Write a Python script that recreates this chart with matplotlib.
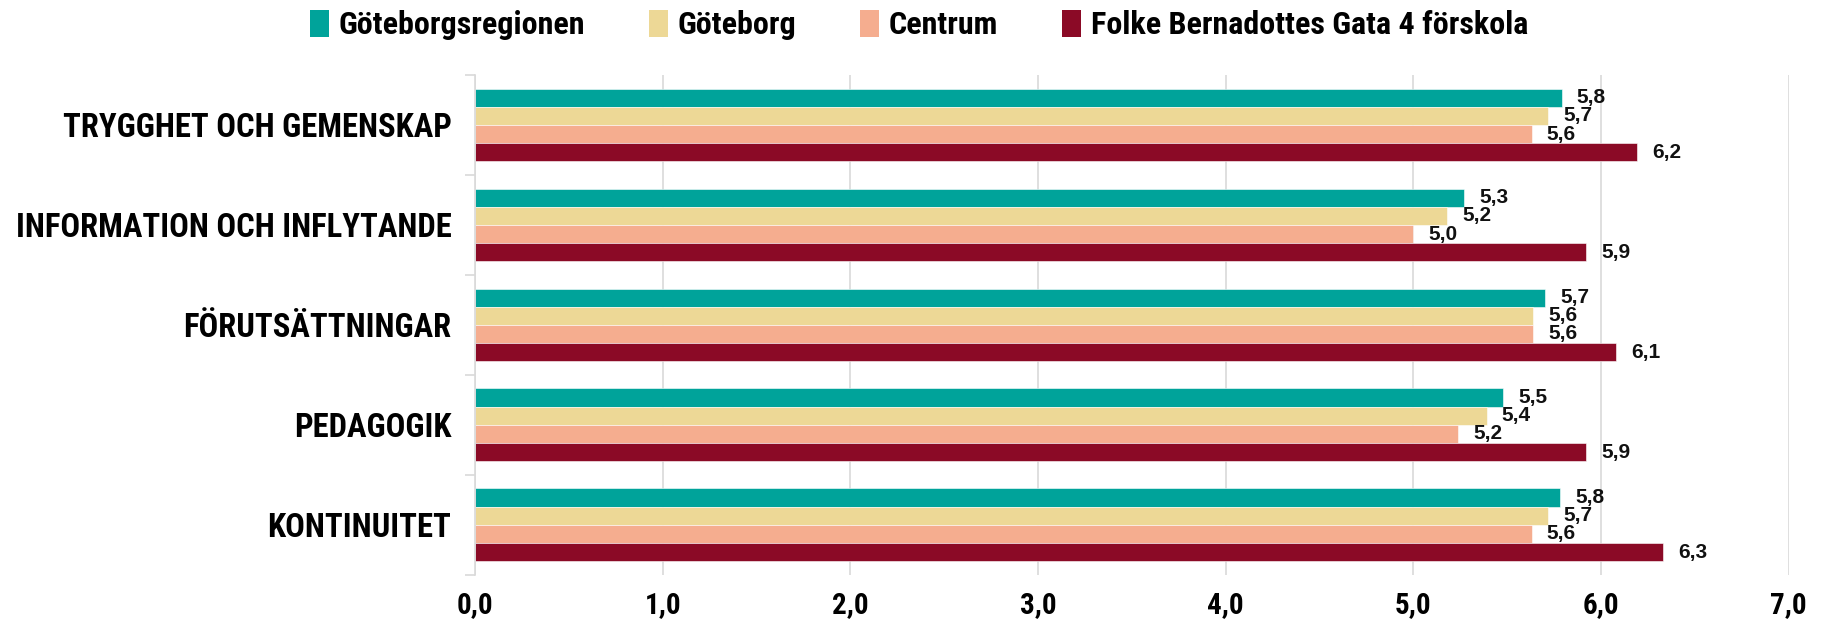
import numpy as np
import matplotlib
matplotlib.use("Agg")
import matplotlib.pyplot as plt
from matplotlib.patches import Patch

categories = ["TRYGGHET OCH GEMENSKAP", "INFORMATION OCH INFLYTANDE",
              "FÖRUTSÄTTNINGAR", "PEDAGOGIK", "KONTINUITET"]
series_names = ["Göteborgsregionen", "Göteborg", "Centrum",
                "Folke Bernadottes Gata 4 förskola"]
goteborgsregionen = [5.79, 5.27, 5.70, 5.48, 5.78]
goteborg = [5.72, 5.18, 5.64, 5.39, 5.72]
centrum = [5.63, 5.00, 5.64, 5.24, 5.63]
forskola = [6.19, 5.92, 6.08, 5.92, 6.33]
xticks = [0, 1, 2, 3, 4, 5, 6, 7]

colors = ["#00A39A", "#EDD896", "#F5AD8F", "#8B0A26"]
cond = ["Liberation Sans Narrow", "Roboto Condensed", "DejaVu Sans Condensed", "DejaVu Sans"]
plain = ["Liberation Sans", "DejaVu Sans"]


def comma(v):
  return f"{v:.1f}".replace(".", ",")


def main():
  fig = plt.figure(figsize=(18.27, 6.2), dpi=100)
  ax = fig.add_axes([0.26, 0.073, 0.719, 0.806])

  data = [goteborgsregionen, goteborg, centrum, forskola]
  y = np.arange(len(categories))
  h = 0.182
  for i, vals in enumerate(data):
    pos = y - 1.5 * h + i * h
    ax.barh(pos, vals, height=h, color=colors[i], edgecolor="white", linewidth=0.4, zorder=2)
    for p, v in zip(pos, vals):
      ax.annotate(comma(v), (v, p), xytext=(11, 0), textcoords="offset points",
                  va="center", ha="left", fontsize=15, fontweight="bold",
                  family=plain, color="#111111")

  ax.set_xlim(0, 7)
  ax.set_ylim(len(categories) - 0.5, -0.5)
  ax.set_xticks(xticks)
  ax.set_xticklabels([comma(t) for t in xticks], family=cond, fontsize=21, fontweight="bold")
  ax.set_yticks(y)
  ax.set_yticklabels(categories, family=cond, fontsize=23.5, fontweight="bold")
  ax.tick_params(axis="y", which="major", length=0, pad=17)
  ax.tick_params(axis="x", length=0, pad=12)
  ax.set_yticks(np.arange(-0.5, len(categories)), minor=True)
  ax.tick_params(axis="y", which="minor", length=7, color="#D9D9D9", width=1.2)
  ax.grid(axis="x", color="#D9D9D9", linewidth=1.2, zorder=0)
  ax.set_axisbelow(True)
  for s in ["top", "right", "bottom"]:
    ax.spines[s].set_visible(False)
  ax.spines["left"].set_color("#D9D9D9")
  ax.spines["left"].set_linewidth(1.2)

  handles = [Patch(facecolor=c, label=n) for c, n in zip(colors, series_names)]
  fig.legend(handles=handles, loc="upper center", bbox_to_anchor=(0.503, 1.03), ncol=4,
             frameon=False, prop={"family": cond, "size": 23, "weight": "bold"},
             handlelength=0.6, handleheight=0.9, handletextpad=0.3, columnspacing=2.0)

  fig.savefig("out.png", dpi=100)


main()
